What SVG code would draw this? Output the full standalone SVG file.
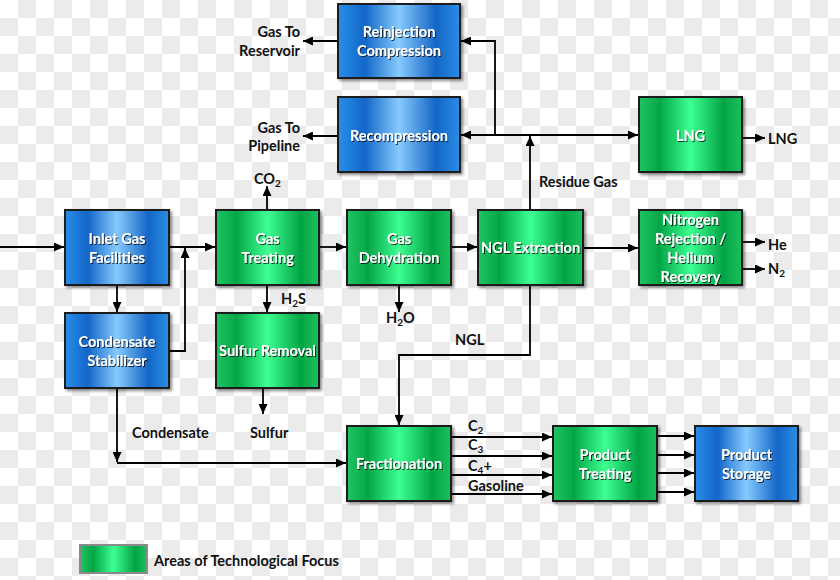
<svg xmlns="http://www.w3.org/2000/svg" width="840" height="580" viewBox="0 0 840 580">
<defs>
<pattern id="checker" x="0" y="0" width="36" height="36" patternUnits="userSpaceOnUse">
<rect width="36" height="36" fill="#ffffff"/>
<rect x="18" y="0" width="18" height="18" fill="#ebebeb"/>
<rect x="0" y="18" width="18" height="18" fill="#ebebeb"/>
</pattern>
<linearGradient id="gGreen" x1="0" y1="0" x2="1" y2="0">
<stop offset="0" stop-color="#22c463"/>
<stop offset="0.2" stop-color="#03a646"/>
<stop offset="0.5" stop-color="#3dff92"/>
<stop offset="0.82" stop-color="#02a444"/>
<stop offset="1" stop-color="#1cc05e"/>
</linearGradient>
<linearGradient id="gBlue" x1="0" y1="0" x2="1" y2="0">
<stop offset="0" stop-color="#2a8ee8"/>
<stop offset="0.22" stop-color="#1366c8"/>
<stop offset="0.5" stop-color="#86caff"/>
<stop offset="0.8" stop-color="#1466c6"/>
<stop offset="1" stop-color="#2b8de6"/>
</linearGradient>
<filter id="boxShadow" x="-10%" y="-10%" width="130%" height="130%">
<feDropShadow dx="2" dy="2" stdDeviation="1.5" flood-color="#000" flood-opacity="0.45"/>
</filter>
<filter id="txtShadow" x="-10%" y="-30%" width="120%" height="160%">
<feDropShadow dx="1" dy="1" stdDeviation="0.6" flood-color="#000" flood-opacity="0.75"/>
</filter>
<marker id="arrow" markerUnits="userSpaceOnUse" markerWidth="10" markerHeight="9" refX="10" refY="4.5" orient="auto">
<path d="M0,0 L10,4.5 L0,9 z" fill="#000"/>
</marker>
<style>
.box{stroke:#1c1c1c;stroke-width:2;filter:url(#boxShadow)}
.green{fill:url(#gGreen)}
.blue{fill:url(#gBlue)}
.bt{font-family:Lato,"Liberation Sans",sans-serif;font-weight:bold;font-size:14.5px;fill:#fff;text-anchor:middle;filter:url(#txtShadow)}
.lbl{font-family:Lato,"Liberation Sans",sans-serif;font-weight:bold;font-size:14.5px;fill:#111}
.sub{font-size:10px}
.conn path{fill:none;stroke:#000;stroke-width:1.8}
.ar{marker-end:url(#arrow)}
</style>
</defs>
<rect width="840" height="580" fill="url(#checker)"/>

<g id="connectors" class="conn">
<path class="ar" d="M0,247 H64"/>
<path class="ar" d="M169,247 H215"/>
<path class="ar" d="M117,285 V312"/>
<path class="ar" d="M169,351 H185 V248"/>
<path class="ar" d="M267,210 V186"/>
<path class="ar" d="M267,285 V312"/>
<path class="ar" d="M319,247 H346"/>
<path class="ar" d="M399,285 V312"/>
<path class="ar" d="M451,247 H477"/>
<path class="ar" d="M583,248 H638"/>
<path class="ar" d="M530,210 V136"/>
<path class="ar" d="M530,135 H461"/>
<path class="ar" d="M530,135 H638"/>
<path class="ar" d="M495,135 V41 H461"/>
<path class="ar" d="M338,41 H303"/>
<path class="ar" d="M338,136 H303"/>
<path class="ar" d="M742,138 H765"/>
<path class="ar" d="M742,242 H765"/>
<path class="ar" d="M742,269 H765"/>
<path class="ar" d="M530,285 V355 H399 V425"/>
<path class="ar" d="M117,388 V462"/>
<path class="ar" d="M117,463 H346"/>
<path class="ar" d="M263,388 V414"/>
<path class="ar" d="M451,437 H552"/>
<path class="ar" d="M451,456 H552"/>
<path class="ar" d="M451,475 H552"/>
<path class="ar" d="M451,494 H552"/>
<path class="ar" d="M657,436 H694"/>
<path class="ar" d="M657,455 H694"/>
<path class="ar" d="M657,473 H694"/>
<path class="ar" d="M657,492 H694"/>
</g>

<g id="reinjection">
<rect class="box blue" x="338" y="4" width="122" height="74"/>
<text class="bt" x="399" y="37">Reinjection</text>
<text class="bt" x="399" y="56">Compression</text>
</g>
<g id="recompression">
<rect class="box blue" x="338" y="97" width="122" height="75"/>
<text class="bt" x="399" y="141">Recompression</text>
</g>
<g id="lng">
<rect class="box green" x="639" y="97" width="103" height="75"/>
<text class="bt" x="690.5" y="141">LNG</text>
</g>
<g id="inlet">
<rect class="box blue" x="65" y="210" width="104" height="75"/>
<text class="bt" x="117" y="244">Inlet Gas</text>
<text class="bt" x="117" y="263">Facilities</text>
</g>
<g id="gastreating">
<rect class="box green" x="216" y="210" width="103" height="75"/>
<text class="bt" x="267.5" y="244">Gas</text>
<text class="bt" x="267.5" y="263">Treating</text>
</g>
<g id="dehydration">
<rect class="box green" x="347" y="210" width="104" height="75"/>
<text class="bt" x="399" y="244">Gas</text>
<text class="bt" x="399" y="263">Dehydration</text>
</g>
<g id="nglextraction">
<rect class="box green" x="478" y="210" width="105" height="75"/>
<text class="bt" x="530.5" y="253">NGL Extraction</text>
</g>
<g id="nitrogen">
<rect class="box green" x="639" y="210" width="103" height="75"/>
<text class="bt" x="690.5" y="225">Nitrogen</text>
<text class="bt" x="690.5" y="244">Rejection /</text>
<text class="bt" x="690.5" y="263">Helium</text>
<text class="bt" x="690.5" y="282">Recovery</text>
</g>
<g id="condensate">
<rect class="box blue" x="65" y="313" width="104" height="75"/>
<text class="bt" x="117" y="347">Condensate</text>
<text class="bt" x="117" y="366">Stabilizer</text>
</g>
<g id="sulfur">
<rect class="box green" x="216" y="313" width="103" height="75"/>
<text class="bt" x="267.5" y="356">Sulfur Removal</text>
</g>
<g id="fractionation">
<rect class="box green" x="347" y="426" width="104" height="75"/>
<text class="bt" x="399" y="469">Fractionation</text>
</g>
<g id="producttreating">
<rect class="box green" x="553" y="426" width="104" height="75"/>
<text class="bt" x="605" y="460">Product</text>
<text class="bt" x="605" y="479">Treating</text>
</g>
<g id="productstorage">
<rect class="box blue" x="695" y="426" width="103" height="75"/>
<text class="bt" x="746.5" y="460">Product</text>
<text class="bt" x="746.5" y="479">Storage</text>
</g>

<g id="labels">
<text class="lbl" x="300" y="37" text-anchor="end">Gas To</text>
<text class="lbl" x="300" y="56" text-anchor="end">Reservoir</text>
<text class="lbl" x="300" y="133" text-anchor="end">Gas To</text>
<text class="lbl" x="300" y="151" text-anchor="end">Pipeline</text>
<text class="lbl" x="254" y="184">CO<tspan class="sub" dy="3">2</tspan></text>
<text class="lbl" x="281" y="304">H<tspan class="sub" dy="3">2</tspan><tspan dy="-3">S</tspan></text>
<text class="lbl" x="386" y="323">H<tspan class="sub" dy="3">2</tspan><tspan dy="-3">O</tspan></text>
<text class="lbl" x="455" y="345">NGL</text>
<text class="lbl" x="539" y="187">Residue Gas</text>
<text class="lbl" x="768" y="144">LNG</text>
<text class="lbl" x="768" y="250">He</text>
<text class="lbl" x="768" y="274">N<tspan class="sub" dy="3">2</tspan></text>
<text class="lbl" x="132" y="438">Condensate</text>
<text class="lbl" x="250" y="438">Sulfur</text>
<text class="lbl" x="468" y="431">C<tspan class="sub" dy="3">2</tspan></text>
<text class="lbl" x="468" y="450">C<tspan class="sub" dy="3">3</tspan></text>
<text class="lbl" x="468" y="471">C<tspan class="sub" dy="3">4</tspan><tspan dy="-3">+</tspan></text>
<text class="lbl" x="468" y="491">Gasoline</text>
</g>

<g id="legend">
<rect x="80" y="545" width="67" height="28" fill="url(#gGreen)" stroke="#8a8a8a" stroke-width="2"/>
<text class="lbl" x="154" y="566">Areas of Technological Focus</text>
</g>
</svg>
